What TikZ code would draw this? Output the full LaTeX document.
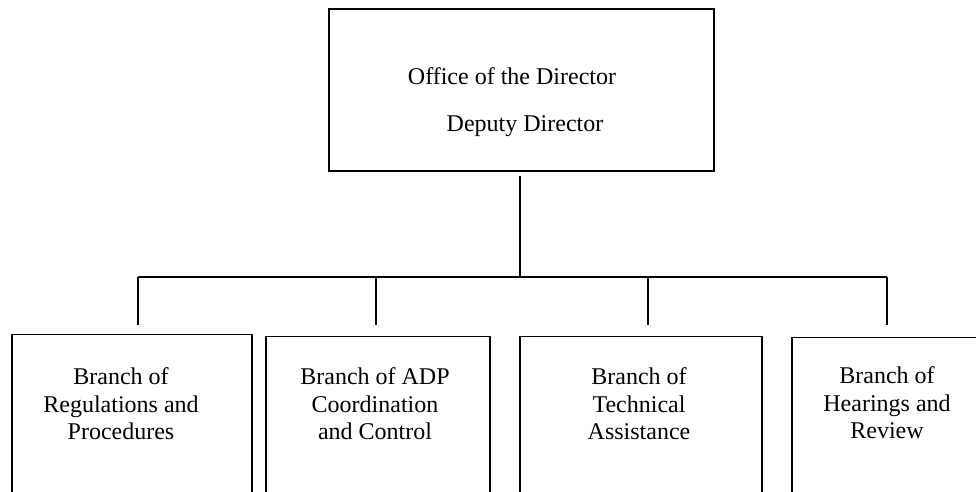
\documentclass[tikz,border=0pt]{standalone}
\usepackage{fontspec}
\setmainfont{Liberation Serif}
\usetikzlibrary{positioning}
\begin{document}
\begin{tikzpicture}[x=1pt,y=-1pt,
  box/.style={draw,line width=1.4pt,inner sep=0pt},
  lbl/.style={font=\fontsize{24}{27.5}\selectfont,align=center,inner sep=0pt},
  link/.style={line width=1.4pt}]
\useasboundingbox (0,0) rectangle (976,491);
\clip (0,0) rectangle (976,491);
% director
\node[box,minimum width=385pt,minimum height=162pt] (dir) at (521.5,90) {};
\node[lbl] (office) at (512,76) {Office of the Director};
\node[lbl] (deputy) at (525,126) {Deputy Director};
% branches
\node[box,minimum width=240pt,minimum height=300pt,anchor=north] (br1) at (132,334) {};
\node[box,minimum width=224pt,minimum height=300pt,anchor=north] (br2) at (378,336) {};
\node[box,minimum width=242pt,minimum height=300pt,anchor=north] (br3) at (641,336) {};
\node[box,minimum width=198pt,minimum height=300pt,anchor=north] (br4) at (891,337) {};
\node[lbl] (reg) at (121,404) {Branch of\\Regulations and\\Procedures};
\node[lbl] (adp) at (375,404) {Branch of ADP\\Coordination\\and Control};
\node[lbl] (tech) at (639,404) {Branch of\\Technical\\Assistance};
\node[lbl] (hear) at (887,403) {Branch of\\Hearings and\\Review};
% connectors
\coordinate (top) at (520,176);
\coordinate (hub) at (520,277);
\coordinate (t1) at (138,277);
\coordinate (t2) at (376,277);
\coordinate (t3) at (648,277);
\coordinate (t4) at (887,277);
\coordinate (d1) at (138,325);
\coordinate (d2) at (376,325);
\coordinate (d3) at (648,325);
\coordinate (d4) at (887,325);
\draw[link](top)--(hub);
\draw[link](t1)--(t4);
\draw[link](t1)--(d1);
\draw[link](t2)--(d2);
\draw[link](t3)--(d3);
\draw[link](t4)--(d4);
\end{tikzpicture}
\end{document}
